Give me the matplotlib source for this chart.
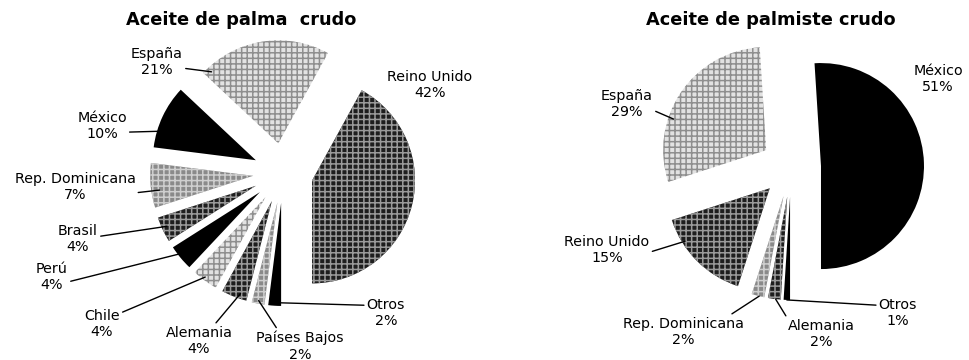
import matplotlib
matplotlib.use("Agg")
import matplotlib.pyplot as plt
import numpy as np

# Aceite de palma crudo: destino de las exportaciones (%)
palma_countries = ["Reino Unido", "España", "México", "Rep. Dominicana", "Brasil",
                   "Perú", "Chile", "Alemania", "Países Bajos", "Otros"]
palma_shares = [42, 21, 10, 7, 4, 4, 4, 4, 2, 2]

# Aceite de palmiste crudo: destino de las exportaciones (%)
palmiste_countries = ["México", "España", "Reino Unido", "Rep. Dominicana", "Alemania", "Otros"]
palmiste_shares = [51, 29, 15, 2, 2, 1]

plt.rcParams.update({
    "font.family": ["DejaVu Sans"],
    "hatch.linewidth": 1.1,
})

FILLS = {
    "black": dict(facecolor="#000000", edgecolor="#000000", hatch=None),
    "dark": dict(facecolor="#1e1e1e", edgecolor="#9a9a9a", hatch="+++"),
    "mid": dict(facecolor="#8a8a8a", edgecolor="#cfcfcf", hatch="+++"),
    "light": dict(facecolor="#e2e2e2", edgecolor="#8e8e8e", hatch="+++"),
}

# fill, label centre, leader anchor inside the wedge (angle fraction, radius fraction),
# start of leader relative to the text box (None = no leader)
palma_layout = [
    ("dark", (430, 275), None, None),
    ("light", (157, 298), (0.95, 0.95), (1.0, 0.3)),
    ("black", (102, 234), (0.72, 0.95), (1.0, 0.3)),
    ("mid", (75, 173), (0.63, 0.92), (0.75, 0.2)),
    ("dark", (78, 121), (0.45, 0.95), (0.85, 0.55)),
    ("black", (52, 83), (0.42, 0.95), (0.85, 0.3)),
    ("light", (102, 36), (0.43, 0.97), (0.8, 0.75)),
    ("dark", (199, 19), (0.7, 0.95), (0.7, 0.95)),
    ("mid", (300, 14), (0.5, 0.97), (0.25, 1.0)),
    ("black", (386, 47), (0.5, 0.97), (0.0, 0.75)),
]

palmiste_layout = [
    ("black", (938, 281), None, None),
    ("light", (627, 256), (0.65, 0.95), (1.0, 0.3)),
    ("dark", (607, 110), (0.26, 0.97), (0.85, 0.3)),
    ("mid", (683, 28), (0.6, 1.0), (0.85, 0.95)),
    ("dark", (821, 26), (0.6, 1.0), (0.0, 1.0)),
    ("black", (898, 47), (0.5, 1.0), (0.0, 0.75)),
]


def draw_pie(ax, countries, shares, layout, center, title, title_x,
             radius=103, offset=30):
    wedges, _ = ax.pie(shares, center=center, radius=radius, startangle=-90,
                       counterclock=True, explode=[offset] * len(shares),
                       wedgeprops=dict(linewidth=0))
    for wedge, name, share, (fill, text_xy, anchor, relpos) in zip(
            wedges, countries, shares, layout):
        style = FILLS[fill]
        wedge.set_facecolor(style["facecolor"])
        wedge.set_edgecolor(style["edgecolor"])
        wedge.set_hatch(style["hatch"])
        wedge.set_linewidth(0)

        label = f"{name}\n{share}%"
        if anchor is None:
            ax.text(*text_xy, label, ha="center", va="center", fontsize=10.3,
                    linespacing=1.25)
            continue
        t, frac = anchor
        theta = np.deg2rad(wedge.theta1 + t * (wedge.theta2 - wedge.theta1))
        cx, cy = wedge.center
        xy = (cx + frac * wedge.r * np.cos(theta), cy + frac * wedge.r * np.sin(theta))
        ax.annotate(label, xy=xy, xytext=text_xy, ha="center", va="center",
                    fontsize=10.3, linespacing=1.25,
                    arrowprops=dict(arrowstyle="-", color="black", lw=1.0,
                                    relpos=relpos, shrinkA=0, shrinkB=0))
    ax.text(title_x, 340, title, ha="center", va="center",
            fontsize=12.8, fontweight="bold")


fig = plt.figure(figsize=(9.69, 3.6), dpi=100)
ax = fig.add_axes([0, 0, 1, 1])

draw_pie(ax, palma_countries, palma_shares, palma_layout, (283, 187),
         "Aceite de palma  crudo", 241)
draw_pie(ax, palmiste_countries, palmiste_shares, palmiste_layout, (791, 193),
         "Aceite de palmiste crudo", 771)

ax.set_xlim(0, 969)
ax.set_ylim(0, 360)
ax.set_aspect("equal")
ax.axis("off")

fig.savefig("out.png", dpi=100, facecolor="white")
